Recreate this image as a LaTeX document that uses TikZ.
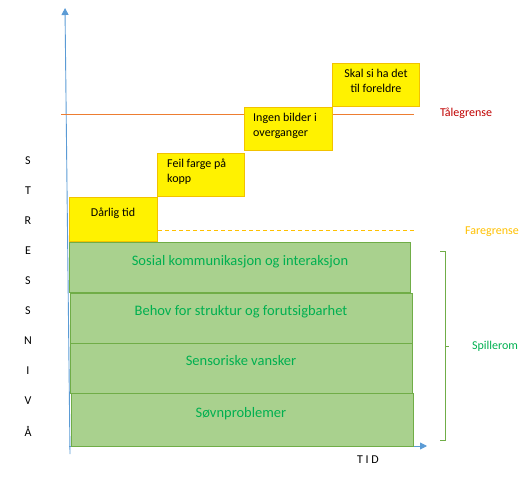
\documentclass[tikz,border=0pt]{standalone}
\usepackage{fontspec}
\setmainfont{Carlito}
\usetikzlibrary{arrows.meta}
\definecolor{axisblue}{HTML}{5B9BD5}
\definecolor{gfill}{HTML}{A9D18E}
\definecolor{gline}{HTML}{70AD47}
\definecolor{gtext}{HTML}{00B050}
\definecolor{yborder}{HTML}{F2C200}
\definecolor{tale}{HTML}{ED7D31}
\definecolor{taletext}{HTML}{C00000}
\definecolor{fare}{HTML}{FFC000}
\tikzset{
  axisline/.style={draw=axisblue, line width=0.9pt, -{Triangle[width=7pt,length=7pt]}},
  greenbox/.style={draw=gline, fill=gfill, line width=0.9pt, inner sep=0pt, anchor=north west},
  yellowbox/.style={draw=yborder, fill=yellow, line width=0.9pt, inner sep=0pt, anchor=north west},
  gtxt/.style={text=gtext, font=\fontsize{14.5}{17}\selectfont, inner sep=0pt},
  ytxt/.style={font=\fontsize{12}{15}\selectfont, inner sep=0pt, align=left},
  lett/.style={font=\fontsize{12}{14}\selectfont, inner sep=0pt},
}
\begin{document}
\begin{tikzpicture}[x=1pt,y=-1pt]
\useasboundingbox (0,0) rectangle (531,493);
% axes
\coordinate (ybot) at (70,454);
\coordinate (ytop) at (65,8);
\coordinate (xstart) at (69,446);
\coordinate (xend) at (427,446);
\draw[axisline] (ybot) -- (ytop);
\draw[axisline] (xstart) -- (xend);
% limit lines
\coordinate (t1) at (61,114);
\coordinate (t2) at (414,114);
\draw[tale, line width=0.9pt] (t1) -- (t2);
\coordinate (f1) at (158,230);
\coordinate (f2) at (415,230);
\draw[fare, line width=0.9pt, dash pattern=on 4pt off 3pt] (f1) -- (f2);
% green boxes
\node[greenbox, minimum width=341pt, minimum height=50pt] (g1) at (69,242) {};
\node[greenbox, minimum width=342pt, minimum height=50pt] (g2) at (70,293) {};
\node[greenbox, minimum width=342pt, minimum height=50pt] (g3) at (70,343) {};
\node[greenbox, minimum width=342pt, minimum height=53pt] (g4) at (71,393) {};
\node[gtxt] (g1t) at (240,262) {Sosial kommunikasjon og interaksjon};
\node[gtxt] (g2t) at (241,312) {Behov for struktur og forutsigbarhet};
\node[gtxt] (g3t) at (241,361) {Sensoriske vansker};
\node[gtxt] (g4t) at (241,414) {Søvnproblemer};
% yellow boxes
\node[yellowbox, minimum width=88pt, minimum height=44pt] (y1) at (69,197) {};
\node[yellowbox, minimum width=87pt, minimum height=43pt] (y2) at (157,153) {};
\node[yellowbox, minimum width=88pt, minimum height=43pt] (y3) at (244,107) {};
\node[yellowbox, minimum width=87pt, minimum height=43pt] (y4) at (332,63) {};
\node[ytxt] (y1t) at (113,213) {Dårlig tid};
\node[ytxt, anchor=north west] (y2t) at (167,159) {Feil farge på\\kopp};
\node[ytxt, anchor=north west] (y3t) at (253,113) {Ingen bilder i\\overganger};
\node[ytxt, align=center, anchor=north] (y4t) at (376,69) {Skal si ha det\\til foreldre};
% labels
\node[lett, text=taletext] (tl) at (466,113) {Tålegrense};
\node[lett, text=fare] (fl) at (492,232) {Faregrense};
% bracket
\coordinate (b1) at (440,251);
\coordinate (b2) at (445,251);
\coordinate (b3) at (445,440);
\coordinate (b4) at (440,440);
\coordinate (bm) at (445,346);
\coordinate (bm2) at (449,346);
\draw[gline, line width=0.9pt] (b1) -- (b2) -- (b3) -- (b4);
\draw[gline, line width=0.9pt] (bm) -- (bm2);
\node[lett, text=gtext] (sp) at (495,346) {Spillerom};
% vertical letters
\foreach \l [count=\i from 0] in {S,T,R,E,S,S,N,I,V,Å} {
  \node[lett] (v\i) at (28,161+30*\i) {\l};
}
\node[lett] (tid) at (368,460) {T I D};
\end{tikzpicture}
\end{document}
